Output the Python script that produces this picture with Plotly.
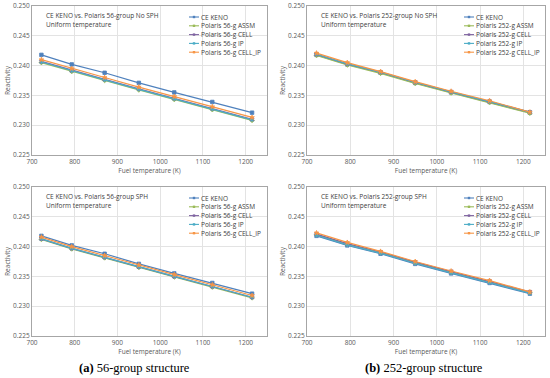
import plotly.graph_objects as go

temps = [722, 793, 870, 950, 1033, 1122, 1215]

series_names = ["CE KENO", "Polaris {g}-g ASSM", "Polaris {g}-g CELL", "Polaris {g}-g IP", "Polaris {g}-g CELL_IP"]

keno = [0.2418, 0.2402, 0.2388, 0.2371, 0.2355, 0.2339, 0.2321]

# 56-group, No SPH
p56_nosph_assm = [0.2405, 0.2390, 0.2375, 0.2359, 0.2343, 0.2326, 0.2308]
p56_nosph_cell = [0.2407, 0.2392, 0.2377, 0.2361, 0.2345, 0.2328, 0.2310]
p56_nosph_ip = [0.2406, 0.2391, 0.2376, 0.2360, 0.2344, 0.2327, 0.2309]
p56_nosph_cellip = [0.2410, 0.2395, 0.2380, 0.2364, 0.2348, 0.2331, 0.2313]

# 252-group, No SPH
p252_nosph_assm = [0.2417, 0.2401, 0.2387, 0.2370, 0.2354, 0.2338, 0.2320]
p252_nosph_cell = [0.2419, 0.2403, 0.2389, 0.2372, 0.2356, 0.2340, 0.2322]
p252_nosph_ip = [0.2419, 0.2403, 0.2389, 0.2372, 0.2356, 0.2340, 0.2322]
p252_nosph_cellip = [0.2421, 0.2405, 0.2390, 0.2373, 0.2357, 0.2341, 0.2322]

# 56-group, SPH
p56_sph_assm = [0.2412, 0.2396, 0.2381, 0.2365, 0.2349, 0.2332, 0.2314]
p56_sph_cell = [0.2413, 0.2397, 0.2382, 0.2366, 0.2350, 0.2333, 0.2315]
p56_sph_ip = [0.2413, 0.2397, 0.2382, 0.2366, 0.2350, 0.2333, 0.2315]
p56_sph_cellip = [0.2416, 0.2400, 0.2385, 0.2369, 0.2353, 0.2336, 0.2318]

# 252-group, SPH
p252_sph_assm = [0.2420, 0.2404, 0.2390, 0.2373, 0.2357, 0.2341, 0.2323]
p252_sph_cell = [0.2421, 0.2405, 0.2391, 0.2374, 0.2358, 0.2342, 0.2324]
p252_sph_ip = [0.2419, 0.2403, 0.2389, 0.2372, 0.2356, 0.2340, 0.2322]
p252_sph_cellip = [0.2423, 0.2407, 0.2392, 0.2375, 0.2359, 0.2343, 0.2324]

panel_titles = [
    "CE KENO vs. Polaris 56-group No SPH",
    "CE KENO vs. Polaris 252-group No SPH",
    "CE KENO vs. Polaris 56-group SPH",
    "CE KENO vs. Polaris 252-group SPH",
]
panel_sub = "Uniform temperature"
panel_groups = ["56", "252", "56", "252"]
panel_data = [
    [keno, p56_nosph_assm, p56_nosph_cell, p56_nosph_ip, p56_nosph_cellip],
    [keno, p252_nosph_assm, p252_nosph_cell, p252_nosph_ip, p252_nosph_cellip],
    [keno, p56_sph_assm, p56_sph_cell, p56_sph_ip, p56_sph_cellip],
    [keno, p252_sph_assm, p252_sph_cell, p252_sph_ip, p252_sph_cellip],
]
captions = ["<b>(a)</b> 56-group structure", "<b>(b)</b> 252-group structure"]

x_ticks = [700, 800, 900, 1000, 1100, 1200]
y_ticks = [0.225, 0.230, 0.235, 0.240, 0.245, 0.250]

colors = ["#4F81BD", "#9BBB59", "#8064A2", "#4BACC6", "#F79646"]
symbols = ["square", "diamond", "x", "asterisk", "star"]

W, H = 550, 378
# plot-area pixel boxes (left, right, top, bottom)
boxes = [(32, 267, 6, 155), (307, 545, 6, 155), (32, 267, 187, 336), (307, 545, 187, 336)]

fig = go.Figure()
font_ui = "Open Sans, DejaVu Sans, sans-serif"
tick_font = dict(size=6.5, color="#595959", family=font_ui)
text_font = dict(size=6.5, color="#404040", family=font_ui)
layout = dict(
    width=W, height=H, margin=dict(l=0, r=0, t=0, b=0),
    paper_bgcolor="white", plot_bgcolor="white", showlegend=False,
    annotations=[], shapes=[],
)

for i in range(4):
    sfx = "" if i == 0 else str(i + 1)
    xa, ya = "x" + sfx, "y" + sfx
    l, r, t, b = boxes[i]
    for j, vals in enumerate(panel_data[i]):
        name = series_names[j].format(g=panel_groups[i])
        fig.add_trace(go.Scatter(
            x=temps, y=vals, mode="lines+markers", name=name,
            line=dict(color=colors[j], width=1.2),
            marker=dict(symbol=symbols[j], size=3.5, color=colors[j],
                        line=dict(color=colors[j], width=0.8)),
            xaxis=xa, yaxis=ya,
        ))
        # legend entry (drawn manually to get Excel-like compact rows)
        ly = 1 - (t + 11 + 8.8 * j) / H
        layout["shapes"].append(dict(
            type="line", xref="paper", yref="paper",
            x0=(l + 157) / W, x1=(l + 167) / W, y0=ly, y1=ly,
            line=dict(color=colors[j], width=1.1)))
        layout["shapes"].append(dict(
            type="rect", xref="paper", yref="paper",
            x0=(l + 160.8) / W, x1=(l + 163.2) / W, y0=ly - 1.2 / H, y1=ly + 1.2 / H,
            line=dict(width=0), fillcolor=colors[j]))
        layout["annotations"].append(dict(
            xref="paper", yref="paper", x=(l + 168) / W, y=ly,
            xanchor="left", yanchor="middle", showarrow=False, text=name,
            font=text_font, borderpad=0))
    axcommon = dict(showline=True, linecolor="#A6A6A6", linewidth=1, mirror=True,
                    showgrid=True, gridcolor="#E3E3E3", gridwidth=1, zeroline=False,
                    ticks="", tickfont=tick_font, automargin=False)
    layout["xaxis" + sfx] = dict(
        domain=[l / W, r / W], anchor=ya, range=[700, 1250], tickvals=x_ticks,
        title=dict(text="Fuel temperature (K)", font=tick_font, standoff=3),
        **axcommon)
    layout["yaxis" + sfx] = dict(
        domain=[1 - b / H, 1 - t / H], anchor=xa, range=[0.225, 0.250], tickvals=y_ticks,
        tickformat=".3f",
        title=dict(text="Reactivity", font=tick_font, standoff=1),
        **axcommon)
    for k, txt in enumerate([panel_titles[i], panel_sub]):
        layout["annotations"].append(dict(
            xref="paper", yref="paper", x=(l + 13) / W, y=1 - (t + 9.5 + 9 * k) / H,
            xanchor="left", yanchor="middle", showarrow=False, borderpad=0,
            text=txt, font=text_font,
        ))

for k, cap in enumerate(captions):
    cx = [134, 424][k]
    layout["annotations"].append(dict(
        xref="paper", yref="paper", x=cx / W, y=1 - 368 / H,
        xanchor="center", yanchor="middle", showarrow=False, text=cap,
        font=dict(size=12.5, color="black", family="Liberation Serif, Times New Roman, serif"),
    ))

fig.update_layout(**layout)
fig.write_html("out.html", config={"displayModeBar": False},
               post_script="document.body.style.margin='0';document.body.style.overflow='hidden';")
